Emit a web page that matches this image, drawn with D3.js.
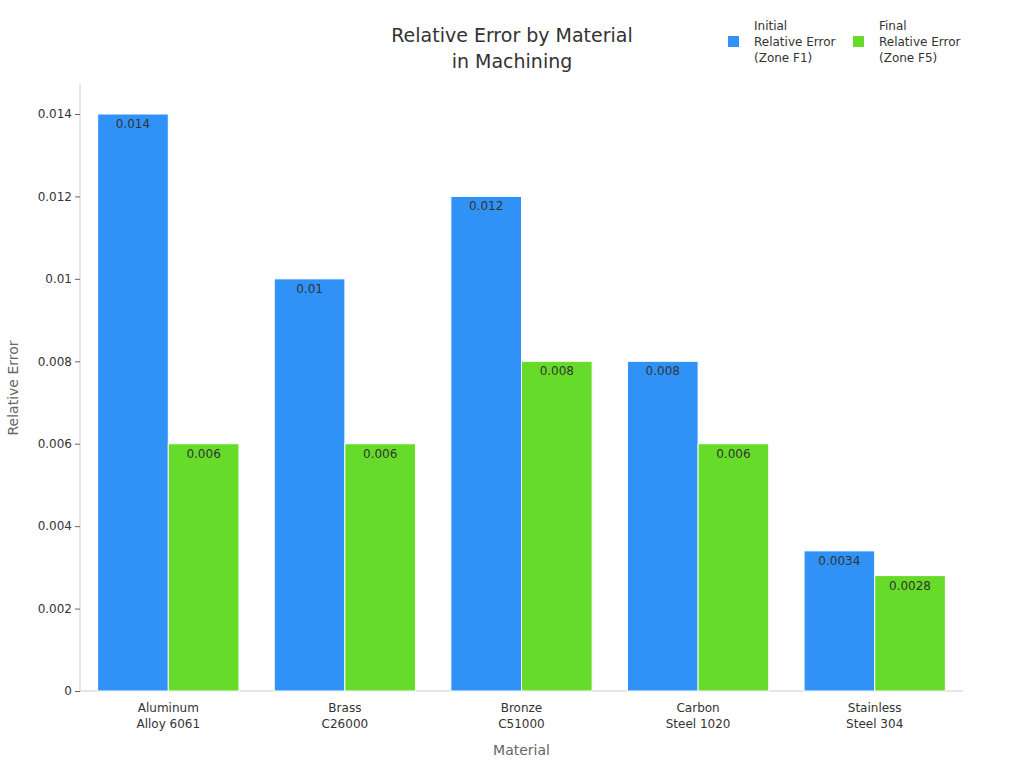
<!DOCTYPE html>
<html>
<head>
<meta charset="utf-8">
<script src="https://cdn.jsdelivr.net/npm/d3@7"></script>
<style>
  body { margin: 0; background: #fff; font-family: "DejaVu Sans", sans-serif; }
</style>
</head>
<body>
<svg id="chart" width="1024" height="768"></svg>
<script>
// chart data
const materials = [["Aluminum", "Alloy 6061"], ["Brass", "C26000"], ["Bronze", "C51000"], ["Carbon", "Steel 1020"], ["Stainless", "Steel 304"]];
const initialError = [0.014, 0.01, 0.012, 0.008, 0.0034];
const finalError = [0.006, 0.006, 0.008, 0.006, 0.0028];
const seriesNames = [["Initial", "Relative Error", "(Zone F1)"], ["Final", "Relative Error", "(Zone F5)"]];
const yTicks = [0, 0.002, 0.004, 0.006, 0.008, 0.01, 0.012, 0.014];
const colors = ["#3092f7", "#67db29"];

const svg = d3.select("#chart");
const margin = { left: 80, right: 61, top: 84, bottom: 77 };
const W = 1024, H = 768;

const x0 = d3.scaleBand().domain(d3.range(materials.length))
  .range([margin.left, W - margin.right]).paddingInner(0.2).paddingOuter(0.1);
const x1 = d3.scaleBand().domain([0, 1]).range([0, x0.bandwidth()]);
const y = d3.scaleLinear().domain([0, 0.014]).range([H - margin.bottom, 114]);

// title
svg.append("text").attr("x", 512).attr("y", 42).attr("text-anchor", "middle")
  .attr("font-size", 19).attr("fill", "#333").text("Relative Error by Material");
svg.append("text").attr("x", 512).attr("y", 68).attr("text-anchor", "middle")
  .attr("font-size", 19).attr("fill", "#333").text("in Machining");

// axes
const yAxis = svg.append("g").attr("transform", `translate(${margin.left},0)`)
  .call(d3.axisLeft(y).tickValues(yTicks).tickFormat(d => d === 0 ? "0" : String(+d.toFixed(4))).tickSize(5));
yAxis.select(".domain").attr("d", `M0,${margin.top}V${H - margin.bottom}`).attr("stroke", "#ccc");
yAxis.selectAll(".tick line").attr("stroke", "#666");
yAxis.selectAll("text").attr("font-size", 12).attr("fill", "#333").attr("font-family", "DejaVu Sans");

svg.append("line").attr("x1", margin.left).attr("x2", W - margin.right)
  .attr("y1", H - margin.bottom).attr("y2", H - margin.bottom).attr("stroke", "#ccc");

// bars
const groups = svg.append("g").selectAll("g").data(materials).join("g")
  .attr("transform", (d, i) => `translate(${x0(i)},0)`);
[initialError, finalError].forEach((vals, s) => {
  groups.append("rect")
    .attr("x", x1(s)).attr("width", x1.bandwidth())
    .attr("y", (d, i) => y(vals[i])).attr("height", (d, i) => y(0) - y(vals[i]))
    .attr("fill", colors[s]).attr("stroke", "#fff").attr("stroke-width", 1);
  groups.append("text")
    .attr("x", x1(s) + x1.bandwidth() / 2).attr("y", (d, i) => y(vals[i]) + 14)
    .attr("text-anchor", "middle").attr("font-size", 12).attr("fill", "#333")
    .text((d, i) => vals[i]);
});

// x labels
groups.each(function(d) {
  const t = d3.select(this).append("text").attr("text-anchor", "middle")
    .attr("font-size", 12).attr("fill", "#333");
  d.forEach((line, k) => t.append("tspan").attr("x", x0.bandwidth() / 2).attr("y", 712 + k * 16).text(line));
});

svg.append("text").attr("x", (margin.left + W - margin.right) / 2).attr("y", 755)
  .attr("text-anchor", "middle").attr("font-size", 14).attr("fill", "#666").text("Material");
svg.append("text").attr("transform", "translate(18,388) rotate(-90)")
  .attr("text-anchor", "middle").attr("font-size", 14).attr("fill", "#666").text("Relative Error");

// legend
const leg = svg.append("g").selectAll("g").data(seriesNames).join("g")
  .attr("transform", (d, i) => `translate(${728 + i * 125},36)`);
leg.append("rect").attr("width", 11).attr("height", 11).attr("fill", (d, i) => colors[i]);
leg.each(function(d) {
  const t = d3.select(this).append("text").attr("font-size", 12).attr("fill", "#333");
  d.forEach((line, k) => t.append("tspan").attr("x", 26).attr("y", -6 + k * 16).text(line));
});
</script>
</body>
</html>
